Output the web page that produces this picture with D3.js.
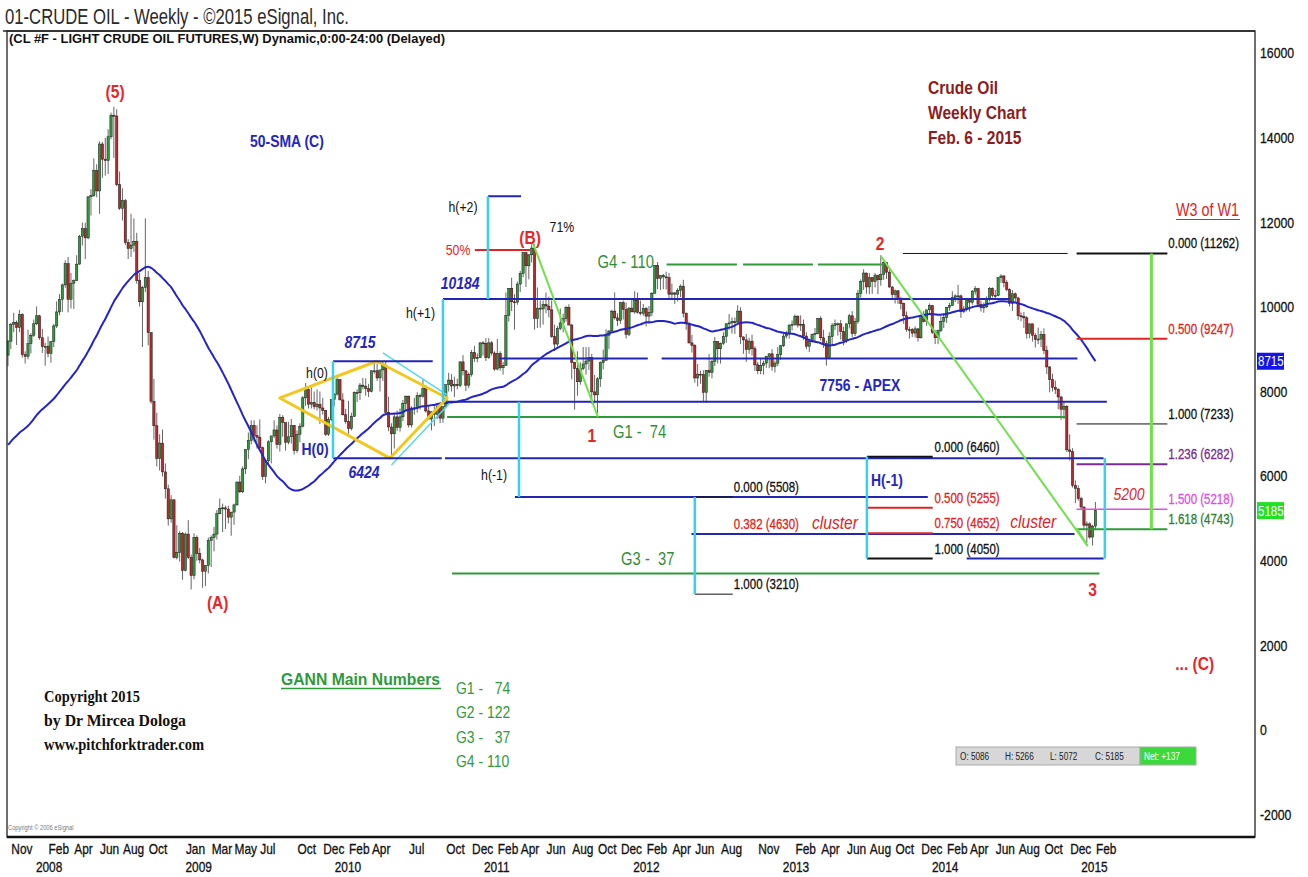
<!DOCTYPE html>
<html><head><meta charset="utf-8">
<script src="https://cdnjs.cloudflare.com/ajax/libs/d3/7.8.5/d3.min.js"></script>
<style>
body{margin:0;background:#fff}
svg{display:block}
text{white-space:pre}
</style>
</head><body>
<svg id="c" width="1308" height="877"></svg>
<script>
// ===================== DATA =====================
// Weekly bars [open, high, low, close] in USD (chart scale = USD x 100), week ending Friday
const firstWeekEnding = "2007-10-26";
const bars2007 = [
 [88.6,92.2,86.0,91.9],[91.9,96.2,90.0,95.9],[95.9,98.6,94.0,96.3],[96.3,96.8,91.0,95.1],[95.1,99.3,94.0,98.2],
 [98.2,98.5,88.0,88.7],[88.7,89.5,86.6,88.3],[88.3,94.6,87.6,91.3],[91.3,93.8,89.0,93.3],[93.3,97.0,92.9,96.0]
];
const bars2008 = [
 [96.0,100.1,95.7,97.9],[97.9,98.1,92.2,92.7],[92.7,94.8,89.1,90.6],[90.6,91.5,86.1,90.7],
 [90.7,93.0,88.1,89.0],[89.0,91.9,86.8,91.8],[91.8,96.0,90.5,95.5],[95.5,101.3,95.0,98.8],[98.8,103.0,98.0,101.8],
 [101.8,105.5,98.8,105.2],[105.2,111.0,104.5,110.2],[110.2,111.8,98.7,101.8],[101.8,108.0,99.6,105.6],
 [105.6,106.5,99.5,106.2],[106.2,112.2,106.1,110.1],[110.1,117.0,110.0,116.7],[116.7,119.9,114.5,118.5],
 [118.5,119.9,111.3,116.3],[116.3,126.2,116.0,126.0],[126.0,127.8,121.6,126.3],[126.3,135.1,126.0,132.2],[132.2,133.7,125.9,127.4],
 [127.4,139.1,122.0,138.5],[138.5,139.0,130.5,134.9],[134.9,139.9,131.0,134.6],[134.6,142.0,131.4,140.2],
 [140.2,145.9,139.6,145.3],[145.3,147.3,135.2,145.1],[145.1,146.7,128.5,128.9],[128.9,132.0,122.9,123.3],
 [123.3,128.0,120.4,125.1],[125.1,125.5,114.6,115.2],[115.2,116.0,111.3,113.8],[113.8,122.0,111.8,114.6],[114.6,120.9,113.0,115.5],
 [115.5,117.5,105.5,106.2],[106.2,108.0,100.1,101.2],[101.2,105.0,90.5,104.6],[104.6,120.9,103.5,106.9],
 [106.9,108.5,90.9,93.9],[93.9,94.0,77.1,77.7],[77.7,83.0,68.6,71.9],[71.9,75.0,62.3,64.2],[64.2,69.9,61.3,67.8],
 [67.8,71.0,59.9,61.0],[61.0,63.0,54.7,57.0],[57.0,58.0,48.3,49.9],[49.9,55.5,49.0,54.4],
 [54.4,54.5,40.5,40.8],[40.8,48.4,40.3,42.0],[42.0,47.0,39.8,46.5],[46.5,46.8,35.5,37.7]
];
const bars2009 = [
 [37.7,46.7,37.5,46.3],[46.3,49.6,40.4,40.8],[40.8,41.5,33.2,36.5],[36.5,46.5,35.6,45.5],[45.5,46.0,40.0,41.7],
 [41.7,43.0,39.4,40.2],[40.2,40.5,33.6,37.5],[37.5,39.0,34.0,38.9],[38.9,45.5,37.0,44.8],
 [44.8,46.0,38.5,45.5],[45.5,48.0,42.2,46.3],[46.3,52.0,45.0,51.1],[51.1,54.7,51.0,52.4],
 [52.4,53.5,46.8,52.5],[52.5,53.0,47.5,52.2],[52.2,53.0,48.8,50.3],[50.3,51.5,45.9,51.5],
 [51.5,53.5,48.5,53.2],[53.2,58.7,53.0,58.6],[58.6,60.1,56.0,56.3],[56.3,62.3,56.0,61.7],[61.7,66.3,60.5,66.3],
 [66.3,70.3,64.0,68.4],[68.4,73.2,67.5,72.0],[72.0,73.2,68.0,69.6],[69.6,72.0,66.5,69.2],
 [69.2,73.4,66.0,66.7],[66.7,67.0,59.1,59.9],[59.9,64.0,58.3,63.6],[63.6,68.5,62.5,68.1],[68.1,69.5,63.0,69.5],
 [69.5,73.2,69.0,70.9],[70.9,72.0,66.5,67.5],[67.5,74.7,65.8,73.9],[73.9,74.4,69.3,72.7],
 [72.7,72.5,66.0,68.0],[68.0,72.8,67.5,69.3],[69.3,73.5,67.7,72.0],[72.0,72.0,65.1,66.0],
 [66.0,70.8,65.5,69.9],[69.9,72.5,68.0,71.8],[71.8,78.9,71.5,78.5],[78.5,82.0,76.6,80.5],[80.5,81.0,76.0,77.0],
 [77.0,81.0,76.0,77.4],[77.4,80.0,75.8,76.4],[76.4,80.5,75.5,77.0],[77.0,80.0,72.3,76.1],
 [76.1,78.5,74.5,75.5],[75.5,75.6,69.5,69.9],[69.9,74.0,69.5,73.4],[73.4,78.0,73.0,78.1]
];
const bars2010 = [
 [78.1,79.6,76.5,79.4],[79.4,84.0,79.0,82.8],[82.8,82.9,78.0,78.0],[78.0,79.6,74.3,74.5],[74.5,75.9,72.4,72.9],
 [72.9,77.8,70.0,71.2],[71.2,75.0,70.8,74.1],[74.1,80.0,74.0,79.8],[79.8,80.5,77.5,79.7],
 [79.7,82.0,78.0,81.5],[81.5,83.2,80.5,81.2],[81.2,83.1,79.0,80.7],[80.7,81.8,78.7,80.0],
 [80.0,85.0,79.8,84.9],[84.9,87.1,84.2,84.9],[84.9,86.6,82.5,83.2],[83.2,85.0,80.0,85.1],[85.1,87.0,82.5,86.2],
 [86.2,87.0,74.7,75.1],[75.1,78.8,70.6,71.6],[71.6,72.5,64.2,70.0],[70.0,74.9,66.5,74.0],
 [74.0,75.5,70.7,71.5],[71.5,76.0,70.5,74.0],[74.0,78.0,73.0,77.2],[77.2,79.0,75.5,78.9],
 [78.9,79.0,71.5,72.1],[72.1,76.5,71.5,76.1],[76.1,78.5,74.5,76.0],[76.0,79.8,75.0,79.0],[79.0,79.5,75.7,78.9],
 [78.9,83.0,78.5,80.7],[80.7,81.5,75.0,75.4],[75.4,76.5,73.3,73.5],[73.5,75.3,70.8,75.2],
 [75.2,76.5,71.8,74.6],[74.6,77.0,73.5,76.5],[76.5,77.5,72.5,73.7],[73.7,76.2,72.6,76.5],
 [76.5,81.6,76.0,81.6],[81.6,84.4,80.0,82.7],[82.7,84.1,80.0,81.3],[81.3,83.5,78.7,81.7],[81.7,83.0,80.5,81.4],
 [81.4,87.1,81.0,87.0],[87.0,88.6,83.8,84.9],[84.9,85.0,80.1,81.5],[81.5,84.5,80.8,84.0],
 [84.0,89.8,83.5,89.2],[89.2,90.8,87.0,87.8],[87.8,89.0,86.9,88.0],[88.0,91.6,88.0,91.5],[91.5,91.9,88.5,91.4]
];
const bars2011 = [
 [91.4,92.6,87.2,88.0],[88.0,92.6,87.7,91.5],[91.5,91.9,88.5,89.1],[89.1,89.5,84.9,85.3],
 [85.3,92.4,85.0,89.0],[89.0,89.5,84.9,85.6],[85.6,87.0,84.0,86.2],[86.2,103.4,86.0,98.0],
 [98.0,104.0,96.5,104.4],[104.4,106.9,99.0,101.2],[101.2,103.0,94.6,101.1],[101.1,106.0,100.5,105.4],
 [105.4,108.5,103.5,107.9],[107.9,113.0,107.0,112.8],[112.8,112.9,104.7,109.7],[109.7,112.5,106.5,112.3],[112.3,114.8,110.5,113.9],
 [113.9,114.8,94.6,97.2],[97.2,104.6,95.0,99.7],[99.7,101.5,95.1,99.5],[99.5,101.5,95.8,100.6],
 [100.6,103.4,98.5,100.2],[100.2,102.4,97.5,99.3],[99.3,101.5,92.7,93.0],[93.0,95.8,89.6,91.2],
 [91.2,95.5,90.6,94.9],[94.9,99.6,94.5,96.2],[96.2,98.4,94.0,97.2],[97.2,100.2,96.5,99.9],[99.9,100.6,95.7,95.7],
 [95.7,96.0,82.9,86.9],[86.9,87.0,75.7,85.4],[85.4,89.5,79.0,82.3],[82.3,86.9,81.6,85.4],
 [85.4,90.5,85.0,86.5],[86.5,90.5,84.0,87.2],[87.2,90.5,85.1,88.0],[88.0,88.9,77.1,79.9],[79.9,83.9,77.2,79.2],
 [79.2,83.4,74.95,83.0],[83.0,87.1,81.1,86.8],[86.8,89.9,85.2,87.4],[87.4,94.7,87.2,93.3],
 [93.3,94.5,90.0,94.3],[94.3,99.3,94.0,99.0],[99.0,103.4,97.0,97.4],[97.4,98.5,95.5,96.8],
 [96.8,101.2,96.0,101.0],[101.0,101.5,97.0,99.4],[99.4,101.0,92.5,93.5],[93.5,100.0,93.1,99.7],[99.7,101.8,98.8,98.8]
];
const bars2012 = [
 [98.8,103.7,98.4,101.6],[101.6,103.4,98.4,98.7],[98.7,101.5,98.0,98.5],[98.5,100.7,97.9,99.6],
 [99.6,100.0,95.4,97.8],[97.8,100.2,96.0,98.7],[98.7,103.5,97.8,103.2],[103.2,109.8,103.2,109.8],
 [109.8,110.6,104.2,106.7],[106.7,107.4,104.0,107.4],[107.4,107.8,104.2,107.1],[107.1,108.3,104.1,106.9],[106.9,108.0,102.1,103.0],
 [103.0,105.5,101.8,103.3],[103.3,103.5,100.7,103.0],[103.0,104.4,101.3,103.9],[103.9,105.3,102.3,104.9],
 [104.9,106.4,97.5,98.5],[98.5,98.7,94.6,96.1],[96.1,96.5,91.3,91.5],[91.5,93.4,89.2,90.9],
 [90.9,91.2,82.1,83.2],[83.2,86.5,81.2,84.1],[84.1,84.9,81.8,84.0],[84.0,85.0,77.6,79.8],[79.8,85.0,77.3,85.0],
 [85.0,88.9,83.5,84.5],[84.5,87.5,83.1,87.1],[87.1,92.9,86.0,91.8],[91.8,91.8,86.6,90.1],
 [90.1,91.6,86.6,91.4],[91.4,94.0,91.0,93.0],[93.0,96.1,91.5,96.0],[96.0,98.3,94.6,96.2],[96.2,97.5,93.7,96.5],
 [96.5,97.5,93.6,96.4],[96.4,100.4,95.8,99.0],[99.0,99.9,91.2,92.9],[92.9,93.0,88.9,92.2],
 [92.2,93.6,87.0,89.9],[89.9,92.7,88.9,91.9],[91.9,93.4,88.5,90.1],[90.1,90.7,84.9,86.3],
 [86.3,87.0,84.1,84.9],[84.9,87.9,84.1,86.1],[86.1,87.3,84.0,86.7],[86.7,88.4,85.6,88.3],[88.3,89.0,85.5,88.9],
 [88.9,90.0,84.9,85.9],[85.9,87.3,84.5,86.7],[86.7,90.5,86.0,88.7],[88.7,91.0,87.5,90.8]
];
const bars2013 = [
 [90.8,93.8,90.5,93.1],[93.1,94.3,92.5,93.6],[93.6,96.0,92.5,95.6],[95.6,96.8,94.4,95.9],
 [95.9,98.2,95.5,97.8],[97.8,98.0,95.1,95.7],[95.7,98.0,94.3,95.9],[95.9,97.0,92.2,93.1],
 [93.1,94.0,90.0,90.7],[90.7,92.5,89.3,91.9],[91.9,93.7,91.5,93.5],[93.5,95.0,91.5,93.7],[93.7,97.4,93.5,97.2],
 [97.2,97.8,92.0,92.7],[92.7,94.6,90.3,91.3],[91.3,92.0,86.1,88.0],[88.0,94.0,87.9,93.0],
 [93.0,96.2,90.7,95.6],[95.6,97.0,94.5,96.0],[96.0,96.3,93.2,96.0],[96.0,96.9,92.3,94.2],[94.2,95.3,90.9,92.0],
 [92.0,96.0,91.5,96.0],[96.0,98.3,94.9,97.9],[97.9,99.0,92.8,93.7],[93.7,97.4,93.1,96.6],
 [96.6,104.0,96.0,103.2],[103.2,106.5,102.2,106.0],[106.0,108.9,104.0,108.0],[108.0,108.1,103.1,104.7],
 [104.7,108.0,103.0,106.9],[106.9,107.0,103.1,106.0],[106.0,108.0,104.6,107.5],[107.5,107.5,103.0,106.4],[106.4,112.2,105.0,107.7],
 [107.7,110.7,106.4,110.5],[110.5,110.6,106.6,108.2],[108.2,108.8,104.5,104.7],[104.7,104.9,101.6,102.9],
 [102.9,104.1,100.8,103.8],[103.8,104.0,100.7,102.0],[102.0,102.4,99.4,100.8],[100.8,101.0,96.0,97.9],
 [97.9,98.9,94.1,94.6],[94.6,95.3,92.5,94.6],[94.6,95.0,92.9,93.8],[93.8,95.4,92.8,94.8],[94.8,95.0,91.8,92.7],
 [92.7,98.0,92.5,97.7],[97.7,99.0,96.3,96.6],[96.6,99.3,95.5,99.3],[99.3,100.8,98.5,100.3]
];
const bars2014 = [
 [100.3,100.4,93.6,94.0],[94.0,94.5,91.2,92.7],[92.7,94.6,91.2,94.4],[94.4,97.8,94.0,96.6],[96.6,98.5,95.0,97.5],
 [97.5,100.0,96.2,99.9],[99.9,101.0,99.1,100.3],[100.3,103.7,100.2,102.2],[102.2,103.0,101.1,102.6],
 [102.6,105.2,100.7,102.6],[102.6,102.9,97.4,98.9],[98.9,100.2,98.5,99.5],[99.5,101.8,98.9,101.7],
 [101.7,101.9,98.9,101.1],[101.1,104.0,100.5,103.7],[103.7,104.9,102.9,104.3],[104.3,104.5,100.6,100.6],
 [100.6,101.5,98.9,99.8],[99.8,101.0,98.6,100.0],[100.0,102.5,99.7,102.0],[102.0,104.7,101.3,104.4],[104.4,104.6,102.2,102.7],
 [102.7,104.0,101.8,102.7],[102.7,107.0,102.5,106.9],[106.9,107.7,105.7,107.3],[107.3,107.5,104.6,105.7],
 [105.7,106.3,103.7,104.1],[104.1,104.4,100.1,100.8],[100.8,104.0,99.0,103.1],[103.1,103.4,101.2,102.1],
 [102.1,102.4,96.9,97.9],[97.9,98.7,96.6,97.7],[97.7,98.8,95.0,97.4],[97.4,97.8,92.5,93.7],[93.7,96.0,92.6,96.0],
 [96.0,96.0,91.8,93.3],[93.3,93.8,90.4,92.3],[92.3,95.1,91.2,92.4],[92.4,94.3,90.5,93.5],
 [93.5,94.9,88.8,89.7],[89.7,90.8,84.1,85.8],[85.8,86.0,79.8,82.8],[82.8,84.2,80.0,81.0],[81.0,82.6,79.4,80.5],
 [80.5,80.8,75.8,78.7],[78.7,79.0,73.3,75.8],[75.8,77.5,73.5,76.5],[76.5,76.8,65.7,66.2],
 [66.2,69.9,63.7,65.8],[65.8,66.6,57.3,57.8],[57.8,59.0,53.6,57.1],[57.1,57.8,54.2,54.7]
];
const bars2015 = [
 [54.7,55.1,52.0,52.7],[52.7,52.8,47.4,48.4],[48.4,49.3,44.2,48.7],[48.7,49.1,45.2,45.6],[45.6,48.5,43.6,48.2],
 [48.2,53.9,47.4,51.85]
];
// 49 weekly closes before the first bar (Nov 2006 - Oct 2007), used only for the 50-week SMA
const priorCloses = [55.8,59.2,63.4,62.0,63.4,62.4,61.1,
 56.3,53.0,52.0,55.4, 59.0,59.9,59.4,61.1, 61.6,60.1,57.1,62.3,65.9, 64.3,63.6,63.4,66.5,
 61.9,62.4,64.9,65.2, 65.1,64.8,68.0,69.2,70.7, 72.8,73.9,75.6,77.0, 75.5,71.5,72.0,71.1,74.0,
 76.7,79.1,81.6,81.7, 81.2,83.7,88.6];
const smaPeriod = 50;
const smaLastLabel = 8715;
const lastCloseLabel = 5185;

// Axis labels
const priceTicks = [16000,14000,12000,10000,8000,6000,4000,2000,0,-2000];
const monthTicks = [["2007-11","Nov"],["2008-02","Feb"],["2008-04","Apr"],["2008-06","Jun"],["2008-08","Aug"],["2008-10","Oct"],
 ["2009-01","Jan"],["2009-03","Mar"],["2009-05","May"],["2009-07","Jul"],["2009-10","Oct"],["2009-12","Dec"],
 ["2010-02","Feb"],["2010-04","Apr"],["2010-07","Jul"],["2010-10","Oct"],["2010-12","Dec"],["2011-02","Feb"],["2011-04","Apr"],
 ["2011-06","Jun"],["2011-08","Aug"],["2011-10","Oct"],["2011-12","Dec"],["2012-02","Feb"],["2012-04","Apr"],["2012-06","Jun"],
 ["2012-08","Aug"],["2012-11","Nov"],["2013-02","Feb"],["2013-04","Apr"],["2013-06","Jun"],["2013-08","Aug"],["2013-10","Oct"],
 ["2013-12","Dec"],["2014-02","Feb"],["2014-04","Apr"],["2014-06","Jun"],["2014-08","Aug"],["2014-10","Oct"],["2014-12","Dec"],["2015-02","Feb"]];
const yearTicks = ["2008","2009","2010","2011","2012","2013","2014","2015"];

// Horizontal levels [price, from, to]
const blueLevels = [[8715,"2009-12-29","2010-08-30"],[8780,"2011-02-10","2012-02-07"],[8780,"2012-03-12","2014-12-24"],
 [6424,"2009-12-29","2010-09-21"],[6424,"2010-09-29","2015-02-26"],[10184,"2010-09-24","2014-07-11"],
 [7756,"2010-10-04","2015-03-06"],[5508,"2011-03-19","2013-12-23"],[4630,"2012-05-24","2014-12-17"],
 [4050,"2014-03-28","2015-02-26"],[12612,"2011-01-12","2011-04-03"]];
const greenLevels = [[11000,"2012-03-24","2012-09-12"],[11000,"2012-09-27","2013-03-17"],[11000,"2013-03-29","2013-09-01"],
 [7400,"2010-10-04","2014-11-25"],[3700,"2010-10-16","2015-02-16"],[4743,"2014-12-22","2015-08-01"]];
const blackLevels = [[11262,"2013-10-23","2014-11-30",1],[11262,"2014-12-22","2015-08-01",2],[7233,"2014-12-22","2015-08-01",1],
 [6460,"2013-07-27","2014-01-04",2],[4050,"2013-07-27","2014-01-04",2],[5508,"2012-06-01","2012-09-02",1],[3210,"2012-06-01","2012-09-02",1]];
const redLevels = [[9247,"2014-12-22","2015-08-01"],[5255,"2013-07-27","2014-01-04"],[4652,"2013-07-27","2014-01-04"],[11345,"2010-12-11","2011-04-25"]];
const purpleLevels = [[6282,"2014-12-22","2015-08-01"]];
const magentaLevels = [[5218,"2014-12-22","2015-08-01"]];
// Vertical measures [date, fromPrice, toPrice]
const cyanVerticals = [["2009-12-29",6424,8715],["2010-09-24",7756,10184],["2011-01-12",10184,12612],["2011-03-29",5508,7756],
 ["2012-06-01",3210,5508],["2013-07-27",4050,6460],["2015-03-01",4050,6424]];
const wThreeVertical = [["2015-06-23",11262,4743]];
// Diagonals [[date,price],[date,price]]
const cyanDiagonals = [[["2010-04-30",8910],["2010-10-04",7918]],[["2010-05-21",6263],["2010-10-11",7729]]];
const trendLines = [[["2011-05-02",11510],["2011-10-08",7400]],[["2013-08-30",11200],["2015-01-18",4349]],[["2014-12-22",4774],["2015-01-18",4349]]];
const diamond = [["2009-08-21",7847],["2010-04-15",8715],["2010-10-04",7847],["2010-05-17",6424]];

// Text notes [text, date, price] (centre)
const waveLabels = [["(5)","2008-07-14",15080],["(A)","2009-03-22",3020],["(B)","2011-04-25",11630],["1","2011-09-23",6950],
 ["2","2013-08-28",11490],["3","2015-01-30",3310],["... (C)","2015-10-07",1580]];
const redNotes = [["50%","2010-10-31",11345]];
const blackNotes = [["h(+2)","2010-11-12",12361],["h(+1)","2010-07-31",9856],["h(0)","2009-11-20",8438],["h(-1)","2011-01-27",6027],["71%","2011-07-12",11888]];
const blueNotes = [["H(0)","2009-11-15",6618],["H(-1)","2013-09-14",5885],["7756 - APEX","2013-07-10",8130]];
const blueItalicNotes = [["8715","2010-03-05",9147],["10184","2010-11-05",10541],["6424","2010-03-15",6074]];
const gannNotes = [["G4 - 110","2011-12-15",11061],["G1 -  74","2012-01-18",7043],["G3 -  37","2012-02-07",4041]];
const clusterNotes = [["cluster","2013-05-10",4892],["cluster","2014-09-07",4916]];
const targetNotes = [["5200","2015-04-29",5554]];
// Fibonacci labels [text, level, startDate, colourGroup]
const fibLabels = [["0.000 (11262)",11262,"2015-08-01","k"],["0.500 (9247)",9247,"2015-08-01","r"],["1.000 (7233)",7233,"2015-08-01","k"],
 ["1.236 (6282)",6282,"2015-08-01","p"],["1.500 (5218)",5218,"2015-08-01","m"],["1.618 (4743)",4743,"2015-08-01","g"],
 ["0.000 (6460)",6460,"2014-01-06","k"],["0.500 (5255)",5255,"2014-01-06","r"],["0.750 (4652)",4652,"2014-01-06","r"],["1.000 (4050)",4050,"2014-01-06","k"],
 ["0.000 (5508)",5508,"2012-09-02","k"],["0.382 (4630)",4630,"2012-09-02","r"],["1.000 (3210)",3210,"2012-09-02","k"]];
const gannList = ["G1 -   74","G2 - 122","G3 -   37","G4 - 110"];
const infoValues = ["O: 5086","H: 5266","L: 5072","C: 5185"];
const infoNet = "Net: +137";

// ===================== DRAW =====================
const SANS = "'Liberation Sans',Arial,sans-serif";
const NARROW_FACTOR = 0.82; // the reference uses a condensed (Arial Narrow-like) face
const day = d3.utcParse("%Y-%m-%d");
const month = d3.utcParse("%Y-%m");
const svg = d3.select("#c");
const PL = 7, PR = 1255, PT = 31, PB = 837;

const x = d3.scaleUtc().domain([day("2009-01-01"), day("2015-01-01")]).range([185, 1080.7]);
const y = d3.scaleLinear().domain([-2000, 16000]).range([814.6, 53]);

const allBars = [].concat(bars2007, bars2008, bars2009, bars2010, bars2011, bars2012, bars2013, bars2014, bars2015);
const start = day(firstWeekEnding);
const bars = allBars.map((b, i) => ({date: d3.utcDay.offset(start, 7 * i), o: b[0]*100, h: b[1]*100, l: b[2]*100, c: b[3]*100}));
const closesAll = priorCloses.concat(allBars.map(b => b[3]));
const sma = bars.map((b, i) => ({date: b.date, v: d3.mean(closesAll.slice(i, i + smaPeriod)) * 100}));

svg.append("defs").append("clipPath").attr("id", "plot")
  .append("rect").attr("x", PL).attr("y", PT).attr("width", PR - PL).attr("height", PB - PT);

// Title
svg.append("text").attr("x", 5).attr("y", 24).attr("font-family", SANS).attr("font-size", 22)
  .attr("fill", "#2a2a2a").attr("textLength", 344).attr("lengthAdjust", "spacingAndGlyphs")
  .text("01-CRUDE OIL - Weekly - \u00A92015 eSignal, Inc.");
svg.append("text").attr("x", 9).attr("y", 43).attr("font-family", SANS).attr("font-size", 12).attr("font-weight", "bold")
  .attr("fill", "#111").attr("textLength", 436).attr("lengthAdjust", "spacingAndGlyphs")
  .text("(CL #F - LIGHT CRUDE OIL FUTURES,W) Dynamic,0:00-24:00 (Delayed)");

const plot = svg.append("g").attr("clip-path", "url(#plot)");

// Candles
const bw = 2.3;
const cg = plot.append("g");
cg.selectAll("line.w").data(bars).join("line")
  .attr("x1", d => x(d.date)).attr("x2", d => x(d.date))
  .attr("y1", d => y(d.h)).attr("y2", d => y(d.l))
  .attr("stroke", "#666").attr("stroke-width", 1);
cg.selectAll("rect.b").data(bars).join("rect")
  .attr("x", d => x(d.date) - bw / 2).attr("width", bw)
  .attr("y", d => y(Math.max(d.o, d.c)))
  .attr("height", d => Math.max(1, Math.abs(y(d.o) - y(d.c))))
  .attr("fill", d => d.c >= d.o ? "#2f9a3c" : "#b8292b")
  .attr("stroke", "#1a1a1a").attr("stroke-width", 0.5);

// SMA
plot.append("path").datum(sma)
  .attr("d", d3.line().x(d => x(d.date)).y(d => y(d.v)).curve(d3.curveMonotoneX))
  .attr("fill", "none").attr("stroke", "#2424c8").attr("stroke-width", 2);

// Level lines
const ann = plot.append("g");
function hl(arr, color, w) {
  ann.selectAll(null).data(arr).join("line")
    .attr("x1", d => x(day(d[1]))).attr("x2", d => x(day(d[2])))
    .attr("y1", d => y(d[0])).attr("y2", d => y(d[0]))
    .attr("stroke", color).attr("stroke-width", d => d[3] || w);
}
function seg(arr, color, w) {
  ann.selectAll(null).data(arr).join("line")
    .attr("x1", d => x(day(d[0][0]))).attr("y1", d => y(d[0][1]))
    .attr("x2", d => x(day(d[1][0]))).attr("y2", d => y(d[1][1]))
    .attr("stroke", color).attr("stroke-width", w);
}
function vl(arr, color, w) {
  ann.selectAll(null).data(arr).join("line")
    .attr("x1", d => x(day(d[0]))).attr("x2", d => x(day(d[0])))
    .attr("y1", d => y(d[1])).attr("y2", d => y(d[2]))
    .attr("stroke", color).attr("stroke-width", w);
}
ann.append("path")
  .attr("d", d3.line().x(d => x(day(d[0]))).y(d => y(d[1]))(diamond) + "Z")
  .attr("fill", "none").attr("stroke", "#f2c81e").attr("stroke-width", 3).attr("stroke-linejoin", "round");
seg(cyanDiagonals, "#55d8f0", 1.5);
hl(greenLevels, "#2f9a3a", 2);
hl(blueLevels, "#2326b0", 2);
hl(blackLevels, "#111", 1);
hl(redLevels, "#e02424", 2);
hl(purpleLevels, "#7a2c90", 2);
hl(magentaLevels, "#e04ce6", 1.5);
vl(cyanVerticals, "#38d0f0", 2.5);
vl(wThreeVertical, "#6ee24a", 3);
seg(trendLines, "#6ee24a", 2);

// Notes
function notes(arr, color, size, weight, style) {
  svg.selectAll(null).data(arr).join("text")
    .attr("x", d => x(day(d[1]))).attr("y", d => y(d[2]))
    .attr("text-anchor", "middle").attr("dominant-baseline", "central")
    .attr("font-family", SANS).attr("font-size", size).attr("font-weight", weight)
    .attr("font-style", style).attr("fill", color).text(d => d[0]);
}
notes(waveLabels, "#e8262a", 19, "bold", "normal");
notes(redNotes, "#e02424", 15, "normal", "normal");
notes(blackNotes, "#111", 15, "normal", "normal");
notes(blueNotes, "#2326c0", 17, "bold", "normal");
notes(blueItalicNotes, "#2326c0", 17, "bold", "italic");
notes(gannNotes, "#2f8f34", 18, "normal", "normal");
notes(clusterNotes, "#e02424", 19, "normal", "italic");
notes(targetNotes, "#e02424", 17, "normal", "italic");
const fibColor = {k: "#111", r: "#e02424", p: "#7a2c90", m: "#e04ce6", g: "#2f7f34"};
svg.selectAll(null).data(fibLabels).join("text").attr("class", "heavy")
  .attr("x", d => x(day(d[2])) + 1).attr("y", d => y(d[1]) - 5)
  .attr("font-family", SANS).attr("font-size", 14).attr("fill", d => fibColor[d[3]]).text(d => d[0]);

// Free text blocks
const hdr = ["Crude Oil", "Weekly Chart", "Feb. 6 - 2015"];
svg.selectAll(null).data(hdr).join("text").attr("x", 928).attr("y", (d, i) => 94 + i * 25)
  .attr("font-family", SANS).attr("font-size", 19).attr("font-weight", "bold").attr("fill", "#8e1c1c").text(d => d);
svg.append("text").attr("x", 250).attr("y", 147).attr("font-family", SANS).attr("font-size", 17).attr("font-weight", "bold")
  .attr("fill", "#2326c0").text("50-SMA (C)");
svg.append("text").attr("x", 1176).attr("y", 216).attr("font-family", SANS).attr("font-size", 17.5)
  .attr("fill", "#e02424").text("W3 of W1");
svg.append("line").attr("x1", 1176).attr("x2", 1240).attr("y1", 219.5).attr("y2", 219.5).attr("stroke", "#e02424").attr("stroke-width", 1.2);

const copy = ["Copyright 2015", "by Dr Mircea Dologa", "www.pitchforktrader.com"];
const copyW = [96, 142, 160];
svg.selectAll(null).data(copy).join("text").attr("x", 44).attr("y", (d, i) => 702 + i * 24)
  .attr("font-family", "'Liberation Serif','Times New Roman',serif").attr("font-size", 17).attr("font-weight", "bold")
  .attr("fill", "#111").attr("textLength", (d, i) => copyW[i]).attr("lengthAdjust", "spacingAndGlyphs").text(d => d);

svg.append("text").attr("x", 281).attr("y", 685).attr("font-family", SANS).attr("font-size", 17).attr("font-weight", "bold")
  .attr("fill", "#2f9a3a").attr("textLength", 159).attr("lengthAdjust", "spacingAndGlyphs").text("GANN Main Numbers");
svg.append("line").attr("x1", 281).attr("x2", 441).attr("y1", 688.5).attr("y2", 688.5).attr("stroke", "#2f9a3a").attr("stroke-width", 1.5);
svg.selectAll(null).data(gannList).join("text").attr("x", 456).attr("y", (d, i) => 694 + i * 24.3)
  .attr("font-family", SANS).attr("font-size", 17).attr("fill", "#2f9a3a").text(d => d);

svg.append("text").attr("x", 8).attr("y", 830).attr("font-family", SANS).attr("font-size", 7).attr("fill", "#777")
  .text("Copyright \u00A9 2006 eSignal");

// Info box
const ib = svg.append("g");
ib.append("rect").attr("x", 956).attr("y", 747).attr("width", 184).attr("height", 18).attr("fill", "#d7d7d7").attr("stroke", "#aaa");
ib.selectAll(null).data(infoValues).join("text").attr("x", (d, i) => 960 + i * 45).attr("y", 760)
  .attr("font-family", SANS).attr("font-size", 10).attr("fill", "#222").text(d => d);
ib.append("rect").attr("x", 1140).attr("y", 747).attr("width", 56).attr("height", 18).attr("fill", "#3bd93b").attr("stroke", "#aaa");
ib.append("text").attr("x", 1144).attr("y", 760).attr("font-family", SANS).attr("font-size", 10).attr("fill", "#fff").text(infoNet);

// Frame
svg.append("rect").attr("x", PL).attr("y", PT).attr("width", PR - PL).attr("height", PB - PT)
  .attr("fill", "none").attr("stroke", "#222").attr("stroke-width", 1.3);
svg.append("line").attr("x1", 3).attr("x2", PR).attr("y1", PT).attr("y2", PT).attr("stroke", "#222").attr("stroke-width", 1.3);
svg.append("line").attr("x1", PL).attr("x2", PR).attr("y1", PB).attr("y2", PB).attr("stroke", "#111").attr("stroke-width", 2.5);

// Right price axis
const ya = svg.append("g").attr("transform", `translate(${PR},0)`)
  .call(d3.axisRight(y).tickValues(priceTicks).tickSize(0).tickPadding(5).tickFormat(d => String(d)));
ya.select(".domain").remove();
ya.selectAll("text").attr("class", "heavy").attr("font-family", SANS).attr("font-size", 15).attr("fill", "#111");

// Value flags
const flags = [[smaLastLabel, "#1414e6"], [lastCloseLabel, "#22e022"]];
svg.selectAll(null).data(flags).join("rect").attr("x", PR + 2).attr("y", d => y(d[0]) - 8.5)
  .attr("width", 27).attr("height", 17).attr("fill", d => d[1]);
svg.selectAll(null).data(flags).join("text").attr("x", PR + 3).attr("y", d => y(d[0]))
  .attr("dominant-baseline", "central").attr("font-family", SANS).attr("font-size", 14).attr("fill", "#fff").text(d => d[0]);

// Bottom date axis: month labels start at the first weekly bar of the month
const xa = svg.append("g").attr("transform", `translate(0,${PB})`)
  .call(d3.axisBottom(x).tickValues(monthTicks.map(m => d3.utcFriday.ceil(month(m[0])))).tickSize(0).tickPadding(7)
    .tickFormat((d, i) => monthTicks[i][1]));
xa.select(".domain").remove();
xa.selectAll("text").attr("class", "heavy").attr("text-anchor", "start").attr("font-family", SANS).attr("font-size", 14.5).attr("fill", "#111");
const xa2 = svg.append("g").attr("transform", `translate(0,${PB + 18})`)
  .call(d3.axisBottom(x).tickValues(yearTicks.map(v => d3.utcParse("%Y")(v))).tickSize(0).tickPadding(7)
    .tickFormat(d3.utcFormat("%Y")));
xa2.select(".domain").remove();
xa2.selectAll("text").attr("class", "heavy").attr("text-anchor", "start").attr("font-family", SANS).attr("font-size", 14.5).attr("fill", "#111");

// slightly heavier strokes for the small chart labels
svg.selectAll("text.heavy").each(function () {
  const s = d3.select(this);
  s.attr("stroke", s.attr("fill")).attr("stroke-width", 0.3);
});

// Condense every text that has no explicit length (emulates the narrow face of the reference)
svg.selectAll("text").each(function () {
  if (this.hasAttribute("textLength")) return;
  const L = this.getComputedTextLength();
  if (L > 0) d3.select(this).attr("textLength", L * NARROW_FACTOR).attr("lengthAdjust", "spacingAndGlyphs");
});
</script>
</body></html>
